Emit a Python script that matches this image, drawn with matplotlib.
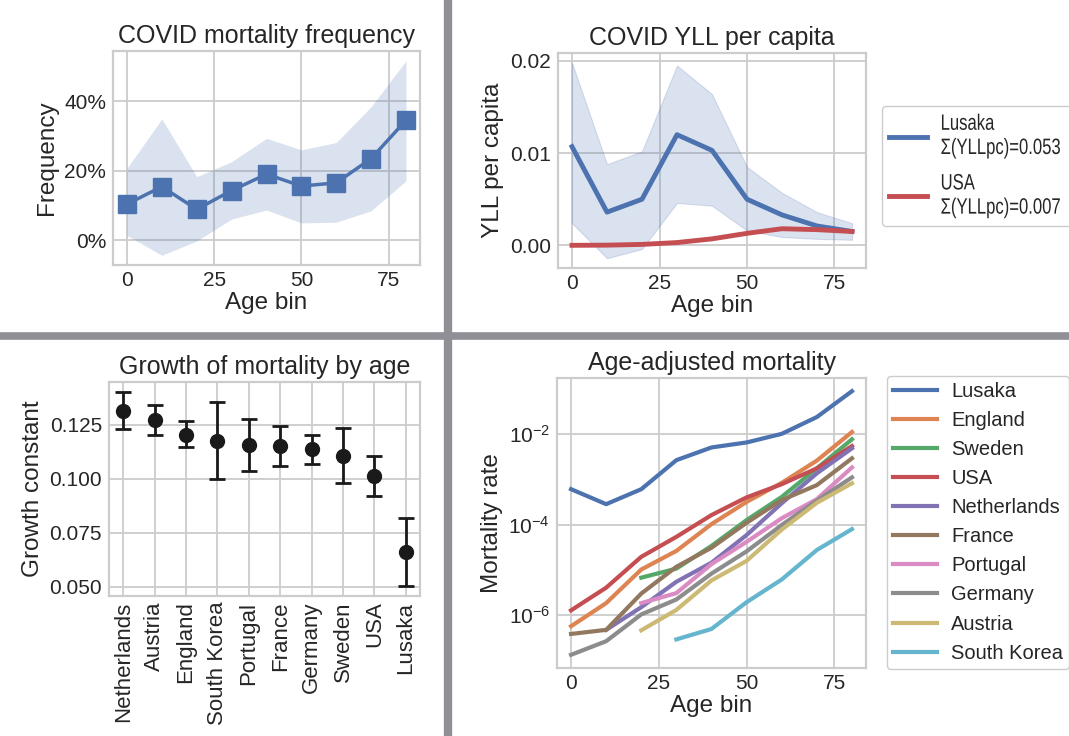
import numpy as np
import matplotlib.pyplot as plt
from matplotlib.lines import Line2D
from matplotlib import patheffects
from matplotlib.transforms import Affine2D

# data
age_bins = [0, 10, 20, 30, 40, 50, 60, 70, 80]

# COVID mortality frequency (percent)
freq = [10.4, 15.4, 8.9, 14.3, 19.0, 15.6, 16.5, 23.5, 34.5]
freq_hi = [20.7, 34.9, 18.3, 22.6, 29.3, 26.0, 28.1, 38.4, 51.6]
freq_lo = [1.4, -4.3, -0.2, 6.1, 8.7, 5.0, 5.2, 8.5, 17.1]

# COVID YLL per capita
yll_lusaka = [0.0107, 0.0036, 0.0050, 0.0120, 0.0103, 0.0050, 0.0033, 0.0021, 0.0015]
yll_lusaka_hi = [0.0198, 0.0088, 0.0102, 0.0195, 0.0164, 0.0085, 0.0057, 0.0036, 0.0024]
yll_lusaka_lo = [0.0024, -0.0014, -0.0004, 0.0046, 0.0043, 0.0016, 0.0009, 0.0007, 0.0006]
yll_usa = [0.0, 0.00002, 0.0001, 0.0003, 0.0007, 0.0013, 0.0018, 0.0017, 0.0015]

# growth constants
growth_names = ['Netherlands', 'Austria', 'England', 'South Korea', 'Portugal',
                'France', 'Germany', 'Sweden', 'USA', 'Lusaka']
growth = [0.1315, 0.1269, 0.1204, 0.1176, 0.1154, 0.1153, 0.1136, 0.1106, 0.1010, 0.0660]
growth_hi = [0.1402, 0.1340, 0.1265, 0.1353, 0.1276, 0.1244, 0.1200, 0.1233, 0.1105, 0.0816]
growth_lo = [0.1228, 0.1200, 0.1147, 0.1000, 0.1034, 0.1060, 0.1069, 0.0978, 0.0918, 0.0502]

# age adjusted mortality, log10 of rate (None = no data)
mort_names = ['Lusaka', 'England', 'Sweden', 'USA', 'Netherlands', 'France',
              'Portugal', 'Germany', 'Austria', 'South Korea']
mort_log = {
    'Lusaka':      [-3.22, -3.55, -3.22, -2.58, -2.30, -2.19, -2.00, -1.63, -1.06],
    'England':     [-6.24, -5.73, -4.99, -4.58, -3.99, -3.50, -3.08, -2.59, -1.96],
    'Sweden':      [None, None, -5.17, -4.97, -4.47, -3.90, -3.39, -2.76, -2.12],
    'USA':         [-5.89, -5.39, -4.71, -4.27, -3.79, -3.40, -3.11, -2.76, -2.27],
    'Netherlands': [None, -6.32, -5.82, -5.26, -4.84, -4.23, -3.53, -2.87, -2.32],
    'France':      [-6.41, -6.32, -5.52, -4.93, -4.51, -3.96, -3.46, -3.13, -2.54],
    'Portugal':    [None, None, -5.73, -5.51, -4.87, -4.38, -3.86, -3.44, -2.74],
    'Germany':     [-6.87, -6.57, -5.98, -5.65, -5.08, -4.59, -4.01, -3.47, -2.96],
    'Austria':     [None, None, -6.33, -5.88, -5.23, -4.80, -4.11, -3.52, -3.09],
    'South Korea': [None, None, None, -6.53, -6.30, -5.71, -5.21, -4.56, -4.10],
}

colors = ['#4C72B0', '#DD8452', '#55A868', '#C44E52', '#8172B3',
          '#937860', '#DA8BC3', '#8C8C8C', '#CCB974', '#64B5CD']

plt.rcParams.update({
    'font.family': ['Liberation Sans', 'DejaVu Sans'],
    'axes.edgecolor': '#cccccc',
    'axes.linewidth': 1.6,
    'grid.color': '#cccccc',
    'grid.linewidth': 1.3,
    'text.color': '#262626',
    'axes.labelcolor': '#262626',
    'xtick.color': '#262626',
    'ytick.color': '#262626',
    'xtick.labelsize': 15,
    'ytick.labelsize': 15,
    'axes.labelsize': 17.5,
    'axes.titlesize': 18,
    'xtick.major.size': 0,
    'ytick.major.size': 0,
    'xtick.major.pad': 4,
    'ytick.major.pad': 5,
    'legend.fontsize': 14.5,
    'legend.edgecolor': '#cccccc',
    'legend.framealpha': 1,
})


class Narrow(patheffects.AbstractPathEffect):
    # squeeze glyphs horizontally to mimic a condensed face
    def __init__(self, sx):
        super().__init__()
        self.sx = sx

    def draw_path(self, renderer, gc, tpath, affine, rgbFace=None):
        renderer.draw_path(gc, tpath, Affine2D().scale(self.sx, 1) + affine, rgbFace)


W, H = 1069, 736
fig = plt.figure(figsize=(W / 100, H / 100), dpi=100)


def box(l, t, r, b):
    return [l / W, 1 - b / H, (r - l) / W, (b - t) / H]


ax1 = fig.add_axes(box(113, 51, 420, 265))
ax2 = fig.add_axes(box(558, 53, 866, 268))
ax3 = fig.add_axes(box(109, 382, 420, 596))
ax4 = fig.add_axes(box(557, 378, 866, 668))

for ax in (ax1, ax2, ax3, ax4):
    ax.grid(True)
    ax.set_axisbelow(True)

# top left
blue = colors[0]
ax1.fill_between(age_bins, freq_lo, freq_hi, color=blue, alpha=0.2, linewidth=0)
ax1.plot(age_bins, freq, color=blue, marker='s', markersize=13, linewidth=2.5)
ax1.set_xticks([0, 25, 50, 75])
ax1.set_yticks([0, 20, 40])
ax1.set_yticklabels(['0%', '20%', '40%'])
ax1.set_title('COVID mortality frequency', pad=6)
ax1.set_xlabel('Age bin', labelpad=2)
ax1.set_ylabel('Frequency')

# top right
ax2.fill_between(age_bins, yll_lusaka_lo, yll_lusaka_hi, color=blue, alpha=0.2,
                 edgecolor=blue, linewidth=0.8)
ax2.plot(age_bins, yll_lusaka, color=blue, linewidth=3.5,
         label='Lusaka\n\u03a3(YLLpc)=0.053')
ax2.plot(age_bins, yll_usa, color=colors[3], linewidth=3.5,
         label='USA\n\u03a3(YLLpc)=0.007')
ax2.set_xticks([0, 25, 50, 75])
ax2.set_yticks([0, 0.01, 0.02])
ax2.set_yticklabels(['0.00', '0.01', '0.02'])
ax2.set_title('COVID YLL per capita', pad=6)
ax2.set_xlabel('Age bin', labelpad=2)
ax2.set_ylabel('YLL per capita')
leg2 = ax2.legend(loc='upper left', bbox_to_anchor=(1.051, 0.7535), borderaxespad=0,
                  prop={'size': 16}, handlelength=1.7, handletextpad=0.6,
                  labelspacing=0.65, borderpad=0.35)
for t in leg2.get_texts():
    t.set_path_effects([Narrow(0.75)])
    t.set_linespacing(1.2)

# bottom left
xpos = np.arange(len(growth_names))
g = np.array(growth)
yerr = [g - np.array(growth_lo), np.array(growth_hi) - g]
ax3.errorbar(xpos, growth, yerr=yerr, fmt='o', color='#1a1a1a', markersize=10,
             capsize=6, capthick=2, elinewidth=2)
ax3.set_xticks(xpos)
ax3.set_xticklabels(growth_names, rotation=90, fontsize=16)
ax3.set_yticks([0.05, 0.075, 0.1, 0.125])
ax3.set_yticklabels(['0.050', '0.075', '0.100', '0.125'])
ax3.set_title('Growth of mortality by age', pad=6)
ax3.set_ylabel('Growth constant')

# bottom right
for name, c in zip(mort_names, colors):
    vals = mort_log[name]
    xs = [a for a, v in zip(age_bins, vals) if v is not None]
    ys = [10 ** v for v in vals if v is not None]
    ax4.plot(xs, ys, color=c, linewidth=3, label=name)
ax4.set_yscale('log')
ax4.set_yticks([1e-6, 1e-4, 1e-2])
ax4.minorticks_off()
ax4.set_xticks([0, 25, 50, 75])
ax4.set_title('Age-adjusted mortality', pad=6)
ax4.set_xlabel('Age bin', labelpad=2)
ax4.set_ylabel('Mortality rate')
ax4.legend(loc='upper left', bbox_to_anchor=(1.067, 1.007), borderaxespad=0,
           handlelength=2.2, handletextpad=0.7, labelspacing=0.5, borderpad=0.3)

# separators
sep = '#8f9095'
fig.add_artist(Line2D([448 / W, 448 / W], [0, 1], color=sep, linewidth=6))
fig.add_artist(Line2D([0, 1], [1 - 335.5 / H, 1 - 335.5 / H], color=sep, linewidth=5.5))

fig.savefig('out.png', dpi=100)
